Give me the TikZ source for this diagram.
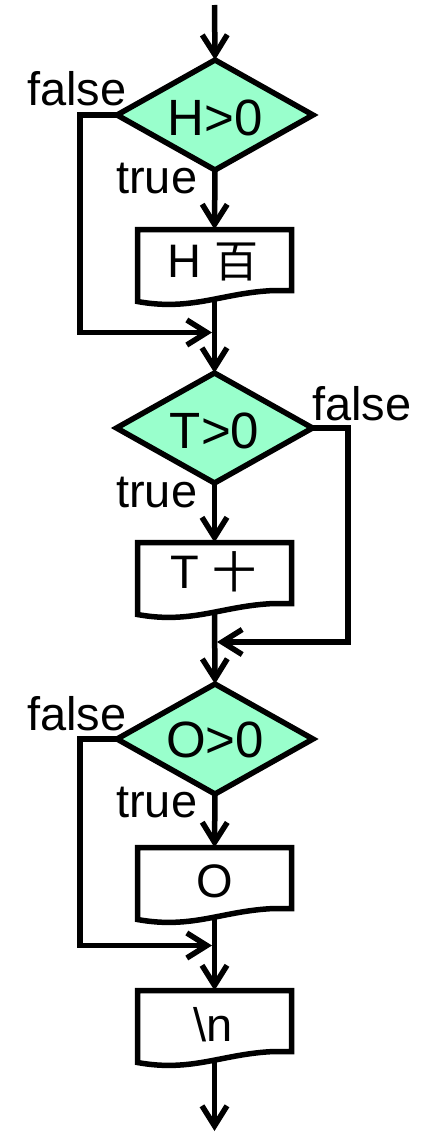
\documentclass[tikz,border=0pt]{standalone}
\usepackage{fontspec}
\setmainfont{Liberation Sans}
\newfontfamily\cjk{Noto Sans CJK SC}
\usetikzlibrary{shapes.geometric,arrows.meta,calc}
\definecolor{decfill}{RGB}{153,255,204}
\newcommand\docoutline[1]{%
  \draw[wire] (#1.north west) -- (#1.north east) -- ($(#1.north east)+(0,61)$)
    -- ($(#1.north west)+(137,61)$) .. controls ($(#1.north west)+(85,63)$) and ($(#1.north west)+(55,82)$) .. ($(#1.north west)+(0,72)$) -- cycle;}
\begin{document}
\begin{tikzpicture}[x=1pt,y=-1pt,
  wire/.style={line width=5.5pt,line join=miter},
  flow/.style={line width=5.5pt,-{Straight Barb[length=20pt,width=25pt]}},
  decision/.style={diamond,draw,line width=5.5pt,fill=decfill,minimum width=196pt,minimum height=110pt,inner sep=0pt,outer sep=0pt},
  docnode/.style={rectangle,minimum width=154pt,minimum height=72pt,inner sep=0pt,outer sep=0pt},
  bigtext/.style={font=\fontsize{51}{60}\selectfont,inner sep=0pt,anchor=base},
  boxtext/.style={font=\fontsize{47}{56}\selectfont,inner sep=0pt,anchor=base},
  lab/.style={font=\fontsize{47}{56}\selectfont,inner sep=0pt,anchor=base west},
]
\useasboundingbox (0,0) rectangle (423,1132);

% decisions
\node[decision] (d1) at (215,115) {};
\node[decision] (d2) at (214.5,428) {};
\node[decision] (d3) at (215,739) {};
\node[bigtext] (d1t) at (215,135) {H>0};
\node[bigtext] (d2t) at (214.5,448) {T>0};
\node[bigtext] (d3t) at (215,757) {O>0};

% document boxes
\node[docnode,anchor=north] (b1) at (214.5,229.5) {};
\node[docnode,anchor=north] (b2) at (214.5,542.5) {};
\node[docnode,anchor=north] (b3) at (214.5,847.5) {};
\node[docnode,anchor=north] (b4) at (214.5,990.5) {};
\docoutline{b1}
\docoutline{b2}
\docoutline{b3}
\docoutline{b4}
\node[boxtext] (b1t) at (213,277) {H {\cjk\fontsize{44}{50}\selectfont 百}};
\node[boxtext] (b2t) at (213.5,588) {T {\cjk\fontsize{44}{50}\selectfont 十}};
\node[boxtext] (b3t) at (215,897) {O};
\node[boxtext] (b4t) at (213,1041) {\textbackslash n};

% labels
\node[lab] (f1) at (27,105) {false};
\node[lab] (t1) at (116,193) {true};
\node[lab] (f2) at (312,420) {false};
\node[lab] (t2) at (116,507) {true};
\node[lab] (f3) at (27,730) {false};
\node[lab] (t3) at (116,817) {true};

% coordinates
\coordinate (start) at (214.5,5);
\coordinate (b1b) at (214.5,300.5);
\coordinate (b2b) at (214.5,613.5);
\coordinate (b3b) at (214.5,918.5);
\coordinate (b4b) at (214.5,1061.5);
\coordinate (m1) at (212,332.5);
\coordinate (m2) at (217,642);
\coordinate (m3) at (212,945.5);
\coordinate (stop) at (214.5,1131);

% connectors
\draw[flow] (start) -- (d1.north);
\draw[flow] (d1.south) -- (b1.north);
\draw[flow] (b1b) -- (d2.north);
\draw[flow] (d2.south) -- (b2.north);
\draw[flow] (b2b) -- (d3.north);
\draw[flow] (d3.south) -- (b3.north);
\draw[flow] (b3b) -- (b4.north);
\draw[flow] (b4b) -- (stop);
\draw[flow,line join=miter] (d1.west) -| (80,332.5) -- (m1);
\draw[flow,line join=miter] (d2.east) -| (348,642) -- (m2);
\draw[flow,line join=miter] (d3.west) -| (80,945.5) -- (m3);
\end{tikzpicture}
\end{document}
